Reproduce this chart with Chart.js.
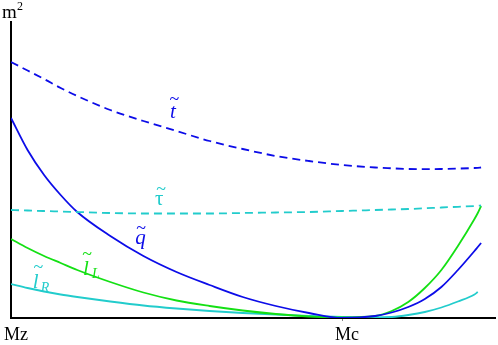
<!DOCTYPE html>
<html>
<head>
<meta charset="utf-8">
<script src="https://cdn.jsdelivr.net/npm/chart.js@4.4.1/dist/chart.umd.min.js"></script>
<style>
  html, body { margin: 0; padding: 0; background: #fff; }
  #wrap { width: 498px; height: 345px; }
</style>
</head>
<body>
<div id="wrap"><canvas id="chart"></canvas></div>
<script>
// mass scale: Mz = 0, Mc = 1
const mass = [0, 0.05, 0.1, 0.15, 0.2, 0.3, 0.4, 0.5, 0.6, 0.7, 0.8, 0.9, 1.0, 1.1, 1.15, 1.2, 1.25, 1.3, 1.35, 1.4, 1.41, 1.42];
const massTicks = [0, 1];
const massTickLabels = ["Mz", "Mc"];

// m^2, arbitrary units
const stopT = [2.56, 2.475, 2.39, 2.30, 2.22, 2.08, 1.97, 1.87, 1.77, 1.69, 1.62, 1.57, 1.53, 1.505, 1.497, 1.49, 1.488, 1.49, 1.494, 1.50, 1.502, 1.505];
const stauTau = [1.08, 1.075, 1.07, 1.065, 1.06, 1.05, 1.045, 1.045, 1.045, 1.05, 1.055, 1.06, 1.07, 1.08, 1.085, 1.09, 1.097, 1.105, 1.112, 1.12, 1.122, 1.125];
const squarkQ = [2.00, 1.68, 1.43, 1.23, 1.06, 0.82, 0.62, 0.46, 0.33, 0.21, 0.12, 0.05, 0.0, 0.02, 0.055, 0.11, 0.19, 0.31, 0.48, 0.67, 0.71, 0.75];
const sleptonL = [0.79, 0.70, 0.62, 0.55, 0.48, 0.36, 0.255, 0.175, 0.12, 0.075, 0.04, 0.015, 0.005, 0.02, 0.07, 0.16, 0.30, 0.48, 0.72, 0.99, 1.05, 1.12];
const sleptonR = [0.34, 0.30, 0.265, 0.235, 0.21, 0.165, 0.125, 0.095, 0.07, 0.05, 0.035, 0.02, 0.01, 0.005, 0.01, 0.03, 0.06, 0.105, 0.165, 0.235, 0.26, null];

const BLUE = "#0c0ce8";
const GREEN = "#14e014";
const CYAN = "#22cccc";
const SERIF = "'Liberation Serif', 'DejaVu Serif', serif";

function points(values) {
    return mass.map((m, i) => ({ x: m, y: values[i] }));
}

function line(label, values, color, dashed) {
    return {
        label: label,
        data: points(values),
        borderColor: color,
        borderWidth: 1.8,
        borderDash: dashed ? [8, 5] : [],
        pointRadius: 0,
        fill: false,
        cubicInterpolationMode: "monotone"
    };
}

// curve names: anchor (baseline-left) in data units, tilde/subscript offsets in px
const curveNames = [
    { text: "t", sub: "", x: 0.48, y: 2.00, color: BLUE, italic: true, tilde: [4.5, -18] },
    { text: "τ", sub: "", x: 0.435, y: 1.13, color: CYAN, italic: false, tilde: [6, -15] },
    { text: "q", sub: "", x: 0.375, y: 0.74, color: BLUE, italic: true, tilde: [6, -15] },
    { text: "l", sub: "L", x: 0.2175, y: 0.43, color: GREEN, italic: true, tilde: [4, -20], subAt: [9, 3] },
    { text: "l", sub: "R", x: 0.066, y: 0.30, color: CYAN, italic: true, tilde: [5.5, -19.5], subAt: [8, 4] }
];

const annotate = {
    id: "annotate",
    afterDatasetsDraw(chart) {
        const ctx = chart.ctx;
        const xs = chart.scales.x;
        const ys = chart.scales.y;
        const area = chart.chartArea;
        ctx.save();
        ctx.textBaseline = "alphabetic";
        curveNames.forEach(n => {
            const px = xs.getPixelForValue(n.x);
            const py = ys.getPixelForValue(n.y);
            ctx.fillStyle = n.color;
            ctx.textAlign = "left";
            ctx.font = (n.italic ? "italic " : "") + "21px " + SERIF;
            ctx.fillText(n.text, px, py);
            if (n.sub) {
                ctx.font = "italic 14px " + SERIF;
                ctx.fillText(n.sub, px + n.subAt[0], py + n.subAt[1]);
            }
            ctx.font = "18px " + SERIF;
            ctx.textAlign = "center";
            ctx.fillText("~", px + n.tilde[0], py + n.tilde[1] + 4.5);
        });
        // axis unit
        ctx.fillStyle = "#000";
        ctx.textAlign = "left";
        ctx.font = "19px " + SERIF;
        ctx.fillText("m", area.left - 9, area.top - 4);
        ctx.font = "12px " + SERIF;
        ctx.fillText("2", area.left + 6, area.top - 12);
        ctx.restore();
    }
};

new Chart(document.getElementById("chart"), {
    type: "line",
    data: {
        datasets: [
            line("t", stopT, BLUE, true),
            line("tau", stauTau, CYAN, true),
            line("q", squarkQ, BLUE, false),
            line("lL", sleptonL, GREEN, false),
            line("lR", sleptonR, CYAN, false)
        ]
    },
    options: {
        responsive: true,
        maintainAspectRatio: false,
        animation: false,
        devicePixelRatio: 1,
        layout: { padding: { top: 22, right: 3, left: 0, bottom: 0 } },
        plugins: {
            legend: { display: false },
            tooltip: { enabled: false }
        },
        scales: {
            x: {
                type: "linear",
                min: 0,
                max: 1.462,
                border: { display: true, color: "#000", width: 2 },
                grid: {
                    display: true,
                    drawOnChartArea: false,
                    drawTicks: true,
                    tickLength: 3,
                    tickWidth: 1,
                    tickColor: c => (c.tick && c.tick.value === 1 ? "#888" : "rgba(0,0,0,0)")
                },
                ticks: {
                    color: "#000",
                    font: { family: SERIF, size: 18 },
                    padding: 3,
                    labelOffset: 5,
                    maxRotation: 0,
                    autoSkip: false,
                    callback: v => massTickLabels[massTicks.indexOf(v)]
                },
                afterBuildTicks: s => { s.ticks = massTicks.map(v => ({ value: v })); },
                afterFit: s => { s.height = 27; s.paddingLeft = 0; s.paddingRight = 0; }
            },
            y: {
                min: 0,
                max: 2.96,
                border: { display: true, color: "#000", width: 2 },
                grid: { display: false },
                ticks: { display: false },
                afterFit: s => { s.width = 11; }
            }
        }
    },
    plugins: [annotate]
});
</script>
</body>
</html>
